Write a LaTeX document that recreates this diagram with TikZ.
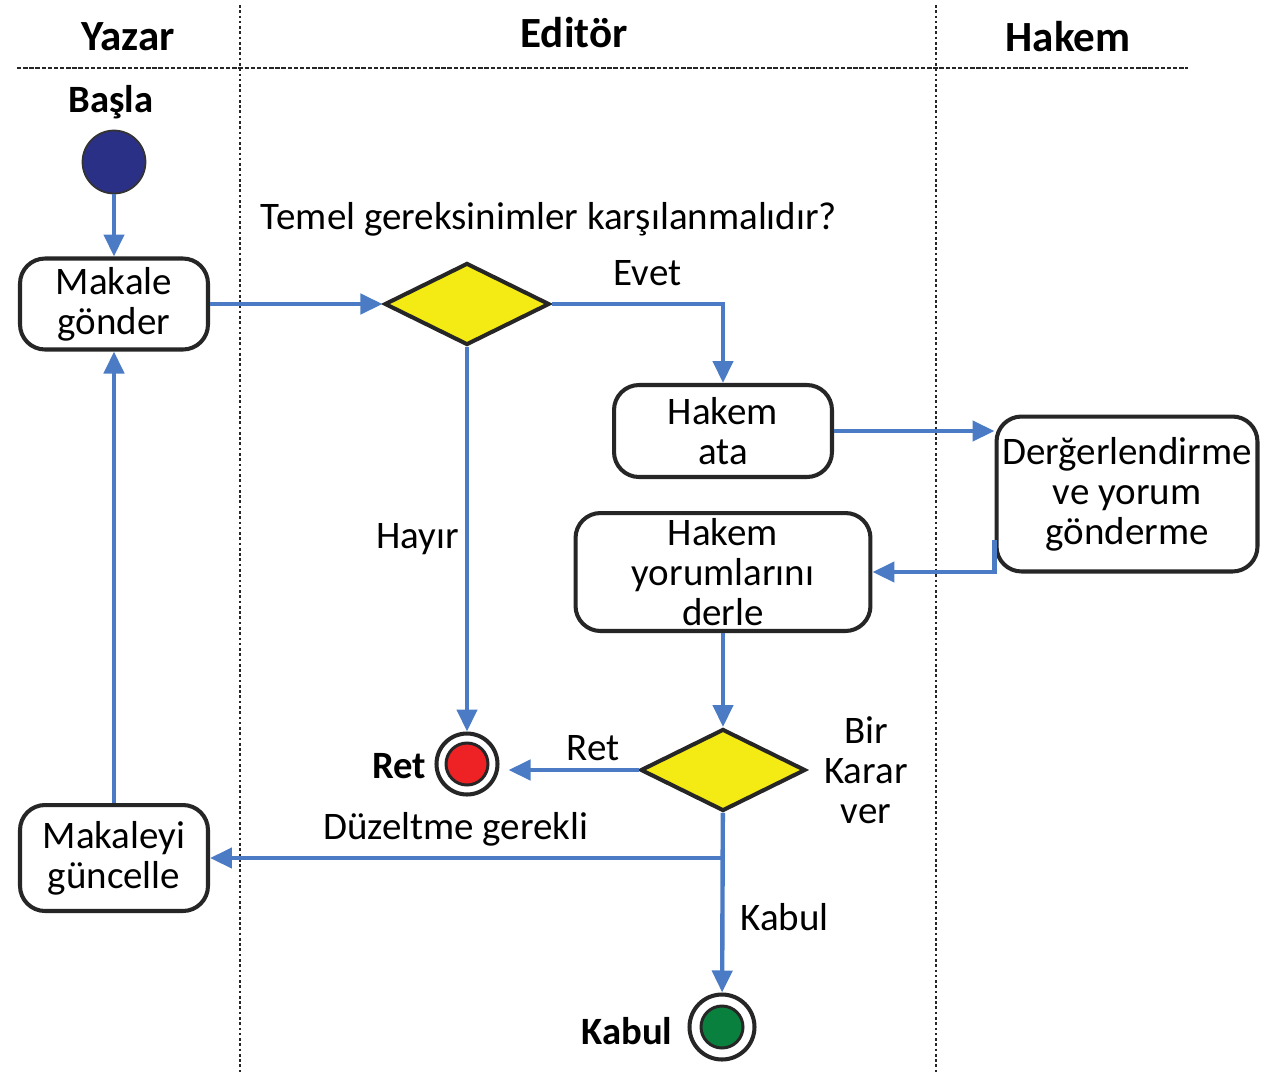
\documentclass[tikz,border=0pt]{standalone}
\usepackage{fontspec}
\setmainfont{Carlito}
\usetikzlibrary{arrows.meta,positioning,shapes.geometric}

\definecolor{flowblue}{HTML}{4A7BC4}
\definecolor{choiceyellow}{HTML}{F5EB14}
\definecolor{startnavy}{HTML}{2B3087}
\definecolor{retred}{HTML}{EE2224}
\definecolor{kabulgreen}{HTML}{0A803E}

\begin{document}
\begin{tikzpicture}
  [x=0.02cm,y=-0.02cm,>={Triangle[length=0.44cm,width=0.4cm]},
  font=\fontsize{22.2}{22.7}\selectfont,
  action/.style= {draw=black!85,line width=2.3pt,rounded corners=0.5cm,fill=white,align=center,inner sep=0pt},
  choice/.style= {diamond,draw=black!85,line width=2.3pt,fill=choiceyellow,inner sep=0pt,minimum width=3.3cm,minimum height=1.64cm},
  start/.style= {circle,draw=black!80,line width=1pt,fill=startnavy,minimum size=1.26cm,inner sep=0pt},
  final/.style= {circle,draw=black!85,line width=2.3pt,fill=white,inner sep=0pt,
    path picture={\draw[black!85,line width=1.7pt,fill=#1] (path picture bounding box.center) circle (0.42cm);}},
  flow/.style= {->,draw=flowblue,line width=2.5pt},
  lane/.style= {black!85,line width=1.4pt,dash pattern=on 1.5pt off 1.5pt},
  lane title/.style= {font=\fontsize{24.5}{28}\selectfont\bfseries},
  state title/.style= {font=\fontsize{22}{26}\selectfont\bfseries}]
  \useasboundingbox (0,0) rectangle (1279,1073);
  \draw[lane] (240,5) -- (240,1073);
  \draw[lane] (936,5) -- (936,1073);
  \draw[lane,dash pattern=on 2.5pt off 1pt] (17,68) -- (1188,68);
  \node[lane title] (yazar) at (128,37) {Yazar};
  \node[lane title] (editor) at (574,33) {Editör};
  \node[lane title] (hakem) at (1068,37) {Hakem};

  \node[start] (basla) at (114,162) {};
  \node[state title] (basla title) at (111,102) {Başla};
  \node[action,minimum width=3.76cm,minimum height=1.82cm] (makale gonder) at (114,304) {Makale\\gönder};
  \node[choice] (kontrol) at (467,304) {};
  \node (kontrol soru) at (549,219) {Temel gereksinimler karşılanmalıdır?};
  \node[action,minimum width=4.36cm,minimum height=1.84cm] (hakem ata) at (723,431) {Hakem\\ata};
  \node[action,minimum width=5.22cm,minimum height=3.1cm] (degerlendirme) at (1127,494) {Derğerlendirme\\ve yorum\\gönderme};
  \node[action,minimum width=5.9cm,minimum height=2.36cm] (yorum derle) at (723,572) {Hakem\\yorumlarını\\derle};
  \node[choice] (karar) at (723,770) {};
  \node[align=center] (karar soru) at (866,770) {Bir\\Karar\\ver};
  \node[final=retred,minimum size=1.22cm] (ret son) at (467,764) {};
  \node[state title] (ret title) at (399,766) {Ret};
  \node[final=kabulgreen,minimum size=1.3cm] (kabul son) at (722,1027) {};
  \node[state title] (kabul title) at (627,1031) {Kabul};
  \node[action,minimum width=3.76cm,minimum height=2.12cm] (guncelle) at (114,858) {Makaleyi\\güncelle};
  \coordinate (duzeltme) at (722,858);

  \draw[flow] (basla) -- (makale gonder);
  \draw[flow] (makale gonder) -- (kontrol);
  \draw[flow] (kontrol.east) -| node[pos=0.28,above=0.2cm] {Evet} (hakem ata);
  \draw[flow] (hakem ata.east) -- (hakem ata.east -| degerlendirme.west);
  \draw[flow] ([yshift=-0.92cm]degerlendirme.west) |- (yorum derle.east);
  \draw[flow] (yorum derle) -- (karar);
  \draw[flow] (karar.west) -- node[pos=0.35,above=0.02cm] {Ret} ([xshift=0.18cm]karar.west -| ret son.east);
  \draw[flow] (kontrol) -- node[left=0cm] {Hayır} (ret son);
  \draw[flow] (karar) -- node[pos=0.58,right=0.2cm] {Kabul} (kabul son);
  \draw[flow] (duzeltme) -- node[pos=0.52,above=0.08cm] {Düzeltme gerekli} (guncelle);
  \draw[flow] (guncelle) -- (makale gonder);
\end{tikzpicture}
\end{document}
